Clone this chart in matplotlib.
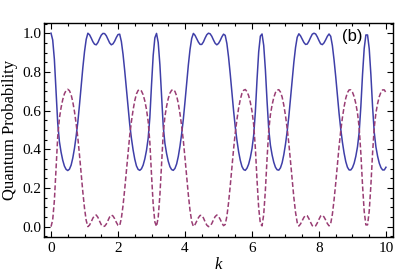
import numpy as np
import matplotlib
matplotlib.use("Agg")
import matplotlib.pyplot as plt
from matplotlib.ticker import MultipleLocator

# sampling grid in k and the two probabilities
k = np.linspace(0, 10, 201)

p_solid = [
    1.000, 0.965, 0.865, 0.705, 0.535, 0.440, 0.385, 0.343, 0.313, 0.296,
    0.290, 0.297, 0.318, 0.355, 0.405, 0.468, 0.540, 0.630, 0.728, 0.822,
    0.905, 0.968, 1.000, 0.992, 0.975, 0.956, 0.943, 0.940, 0.952, 0.972,
    0.990, 0.999, 0.998, 0.987, 0.969, 0.950, 0.940, 0.945, 0.959, 0.978,
    0.993, 0.995, 0.957, 0.891, 0.806, 0.712, 0.615, 0.528, 0.457, 0.397,
    0.349, 0.314, 0.296, 0.291, 0.299, 0.318, 0.350, 0.394, 0.456, 0.563,
    0.732, 0.885, 0.976, 0.999, 0.952, 0.838, 0.676, 0.519, 0.431, 0.378,
    0.338, 0.310, 0.295, 0.291, 0.301, 0.324, 0.363, 0.416, 0.480, 0.555,
    0.646, 0.744, 0.836, 0.916, 0.973, 0.999, 0.989, 0.972, 0.954, 0.942,
    0.942, 0.955, 0.975, 0.992, 1.000, 0.997, 0.984, 0.965, 0.948, 0.940,
    0.947, 0.962, 0.981, 0.995, 0.989, 0.947, 0.877, 0.790, 0.695, 0.600,
    0.516, 0.447, 0.388, 0.343, 0.311, 0.295, 0.291, 0.302, 0.323, 0.357,
    0.403, 0.472, 0.592, 0.759, 0.904, 0.985, 0.996, 0.937, 0.811, 0.648,
    0.503, 0.421, 0.371, 0.333, 0.307, 0.294, 0.292, 0.304, 0.330, 0.372,
    0.426, 0.492, 0.570, 0.663, 0.760, 0.850, 0.926, 0.979, 0.997, 0.986,
    0.969, 0.952, 0.942, 0.944, 0.959, 0.978, 0.995, 1.000, 0.996, 0.981,
    0.962, 0.945, 0.941, 0.950, 0.966, 0.984, 0.996, 0.984, 0.936, 0.862,
    0.775, 0.679, 0.585, 0.504, 0.436, 0.380, 0.336, 0.307, 0.293, 0.293,
    0.305, 0.328, 0.364, 0.413, 0.488, 0.621, 0.786, 0.921, 0.991, 0.991,
    0.920, 0.785, 0.620, 0.487, 0.412, 0.364, 0.328, 0.305, 0.293, 0.293,
    0.307,
]

p_dashed = [
    0.000, 0.035, 0.135, 0.295, 0.465, 0.560, 0.615, 0.657, 0.687, 0.704,
    0.710, 0.703, 0.682, 0.645, 0.595, 0.532, 0.460, 0.370, 0.272, 0.178,
    0.095, 0.032, 0.000, 0.008, 0.025, 0.044, 0.057, 0.060, 0.048, 0.028,
    0.010, 0.001, 0.002, 0.013, 0.031, 0.050, 0.060, 0.055, 0.041, 0.022,
    0.007, 0.005, 0.043, 0.109, 0.194, 0.288, 0.385, 0.472, 0.543, 0.603,
    0.651, 0.686, 0.704, 0.709, 0.701, 0.682, 0.650, 0.606, 0.544, 0.437,
    0.268, 0.115, 0.024, 0.001, 0.048, 0.162, 0.324, 0.481, 0.569, 0.622,
    0.662, 0.690, 0.705, 0.709, 0.699, 0.676, 0.637, 0.584, 0.520, 0.445,
    0.354, 0.256, 0.164, 0.084, 0.027, 0.001, 0.011, 0.028, 0.046, 0.058,
    0.058, 0.045, 0.025, 0.008, 0.000, 0.003, 0.016, 0.035, 0.052, 0.060,
    0.053, 0.038, 0.019, 0.005, 0.011, 0.053, 0.123, 0.210, 0.305, 0.400,
    0.484, 0.553, 0.612, 0.657, 0.689, 0.705, 0.709, 0.698, 0.677, 0.643,
    0.597, 0.528, 0.408, 0.241, 0.096, 0.015, 0.004, 0.063, 0.189, 0.352,
    0.497, 0.579, 0.629, 0.667, 0.693, 0.706, 0.708, 0.696, 0.670, 0.628,
    0.574, 0.508, 0.430, 0.337, 0.240, 0.150, 0.074, 0.021, 0.003, 0.014,
    0.031, 0.048, 0.058, 0.056, 0.041, 0.022, 0.005, 0.000, 0.004, 0.019,
    0.038, 0.055, 0.059, 0.050, 0.034, 0.016, 0.004, 0.016, 0.064, 0.138,
    0.225, 0.321, 0.415, 0.496, 0.564, 0.620, 0.664, 0.693, 0.707, 0.707,
    0.695, 0.672, 0.636, 0.587, 0.512, 0.379, 0.214, 0.079, 0.009, 0.009,
    0.080, 0.215, 0.380, 0.513, 0.588, 0.636, 0.672, 0.695, 0.707, 0.707,
    0.693,
]

x_ticks = [0, 2, 4, 6, 8, 10]
y_ticks = [0.0, 0.2, 0.4, 0.6, 0.8, 1.0]

serif = ["Liberation Serif", "DejaVu Serif"]

fig = plt.figure(figsize=(4.15, 2.8), dpi=100)
ax = fig.add_axes([0.106, 0.154, 0.841, 0.764])

ax.plot(k, p_solid, color="#3f3fa8", lw=1.1)
ax.plot(k, p_dashed, color="#993d74", lw=1.1, dashes=(3.2, 1.6))

ax.set_xlim(-0.21, 10.21)
ax.set_ylim(-0.053, 1.053)

ax.set_xticks(x_ticks)
ax.set_yticks(y_ticks)
ax.set_yticklabels([f"{v:.1f}" for v in y_ticks])
ax.xaxis.set_minor_locator(MultipleLocator(0.5))
ax.yaxis.set_minor_locator(MultipleLocator(0.05))

ax.tick_params(which="both", direction="in", top=True, right=True,
               width=0.8, colors="black")
ax.tick_params(which="major", length=4)
ax.tick_params(which="minor", length=2)
ax.tick_params(axis="y", pad=2)
ax.tick_params(axis="x", pad=4)
for lbl in ax.get_xticklabels() + ax.get_yticklabels():
    lbl.set_family(serif)
    lbl.set_fontsize(11)
for sp in ax.spines.values():
    sp.set_linewidth(1.0)

ax.set_xlabel("k", family=serif, style="italic", fontsize=12, labelpad=1)
ax.set_ylabel("Quantum Probability", family=serif, fontsize=12, labelpad=3)

ax.text(0.883, 0.935, "(b)", transform=ax.transAxes, ha="center", va="center",
        family=["Liberation Sans", "DejaVu Sans"], fontsize=12)

fig.savefig("out.png", dpi=100)
